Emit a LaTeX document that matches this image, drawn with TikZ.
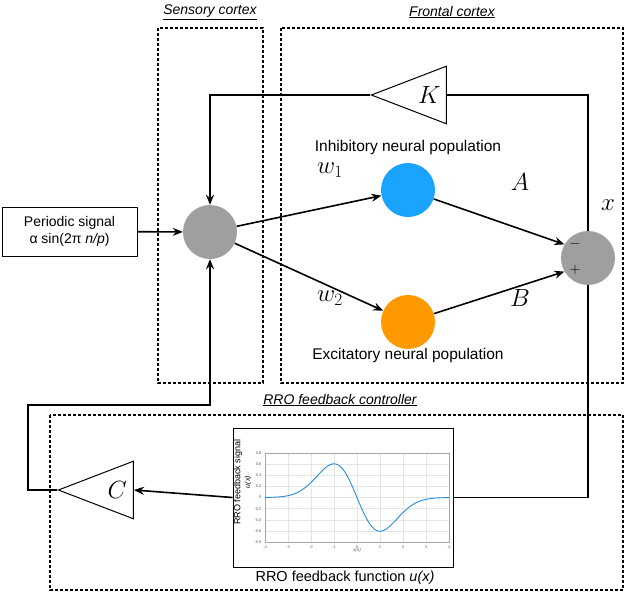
\documentclass[tikz,border=0pt]{standalone}
\usepackage{fontspec}
\setmainfont{Liberation Sans}
\usetikzlibrary{arrows.meta,shapes.geometric}
\begin{document}
\begin{tikzpicture}[x=1pt,y=-1pt,
  box/.style={draw,densely dashed,line width=1.2pt},
  ttl/.style={font=\fontsize{14}{16}\selectfont\itshape},
  circ/.style={circle,minimum size=54pt,inner sep=0},
  ln/.style={line width=1.6pt},
  ar/.style={ln,-{Stealth[length=10pt,width=8pt]}},
  tri/.style={draw,isosceles triangle,isosceles triangle apex angle=42,shape border rotate=180,inner sep=1pt,minimum height=75pt,line width=1pt,font=\fontsize{26}{28}\selectfont\itshape},
  lab/.style={font=\fontsize{24}{26}\selectfont},
  txt/.style={font=\fontsize{15.5}{18}\selectfont}]
\useasboundingbox (0,0) rectangle (630,595);
\draw[box] (158,28) rectangle (263,383);
\draw[box] (281,28) rectangle (623,383);
\draw[box] (50,415) rectangle (623,590);
\node[ttl] (t1) at (210,12) {\underline{Sensory cortex}};
\node[ttl] (t2) at (452,12) {\underline{Frontal cortex}};
\node[ttl] (t3) at (340,400) {\underline{RRO feedback controller}};
\node[draw,line width=1pt,minimum width=135pt,minimum height=49pt,align=center,font=\fontsize{14}{17}\selectfont] (ps) at (69.5,231.5) {Periodic signal\\ α sin(2π \textit{n/p})};
\node[circ,fill=gray!75] (in) at (210,232) {};
\node[circ,fill={rgb,255:red,26;green,163;blue,255}] (inh) at (408,190) {};
\node[circ,fill={rgb,255:red,255;green,153;blue,0}] (exc) at (408,322) {};
\node[circ,fill=gray!75] (sum) at (588,258) {};
\node at (575,244) {\fontsize{14}{14}\selectfont $-$};
\node at (575,270) {\fontsize{14}{14}\selectfont $+$};
\node[tri,anchor=apex] (K) at (370,95) {\hspace{8pt}$K$};
\node[tri,anchor=apex] (C) at (57,490) {\hspace{8pt}$C$};
\node[txt] (il) at (408,147) {Inhibitory neural population};
\node[txt] (el) at (408,355) {Excitatory neural population};
\node[lab] (w1) at (330,170) {$w_1$};
\node[lab] (w2) at (330,298) {$w_2$};
\node[lab] (A) at (520,182) {$A$};
\node[lab] (B) at (520,298) {$B$};
\node[lab] (xl) at (608,205) {$x$};
\draw[ar] (ps) -- (in);
\draw[ar] (in) -- (inh);
\draw[ar] (in) -- (exc);
\draw[ar] (inh) -- (sum.150);
\draw[ar] (exc) -- (sum.210);
\draw[ln] (sum.north) |- (K.east);
\draw[ar] (K.apex) -| (in.north);
% plot
\node[draw,line width=1pt,minimum width=220pt,minimum height=139pt] (pl) at (343,497.5) {};
\begin{scope}[shift={(357,497.5)},x=23pt,y=55.6pt]
  \draw[gray!20,line width=0.3pt] (-4,-0.8) grid[xstep=1,ystep=0.2] (4,0.8);
  \draw[gray!70,line width=0.4pt] (-4,-0.8) rectangle (4,0.8);
  \foreach \i in {-4,...,4} \node[font=\fontsize{4}{4}\selectfont,gray!70!black,below] at (\i,-0.8) {\i};
  \foreach \v/\l in {-0.8/-0.8,-0.6/-0.6,-0.4/-0.4,-0.2/-0.2,0/0,0.2/0.2,0.4/0.4,0.6/0.6,0.8/0.8} \node[font=\fontsize{4}{4}\selectfont,gray!70!black,left] at (-4,\v) {\l};
  \draw[line width=0.9pt,color={rgb,255:red,40;green,140;blue,220},domain=-4:4,samples=120,smooth] plot (\x,{-\x*exp(-\x*\x/2)});
  \node[font=\fontsize{4.5}{5}\selectfont\itshape,gray!70!black] at (0,-0.95) {x(n)};
\end{scope}
\node[rotate=90,font=\fontsize{9}{10}\selectfont] (yl) at (238,482) {RRO feedback signal};
\node[rotate=90,font=\fontsize{7}{8}\selectfont\itshape] (yl2) at (248,482) {u(x)};
\node[font=\fontsize{14.5}{17}\selectfont] (fl) at (345,578) {RRO feedback function \textit{u(x)}};
\draw[ln] (sum.south) |- (pl.east);
\draw[ar] (pl.west) -- (C.east);
\coordinate (c1) at (28,405);
\draw[ar] (C.apex) -| (c1) -| (in.south);
\end{tikzpicture}
\end{document}
